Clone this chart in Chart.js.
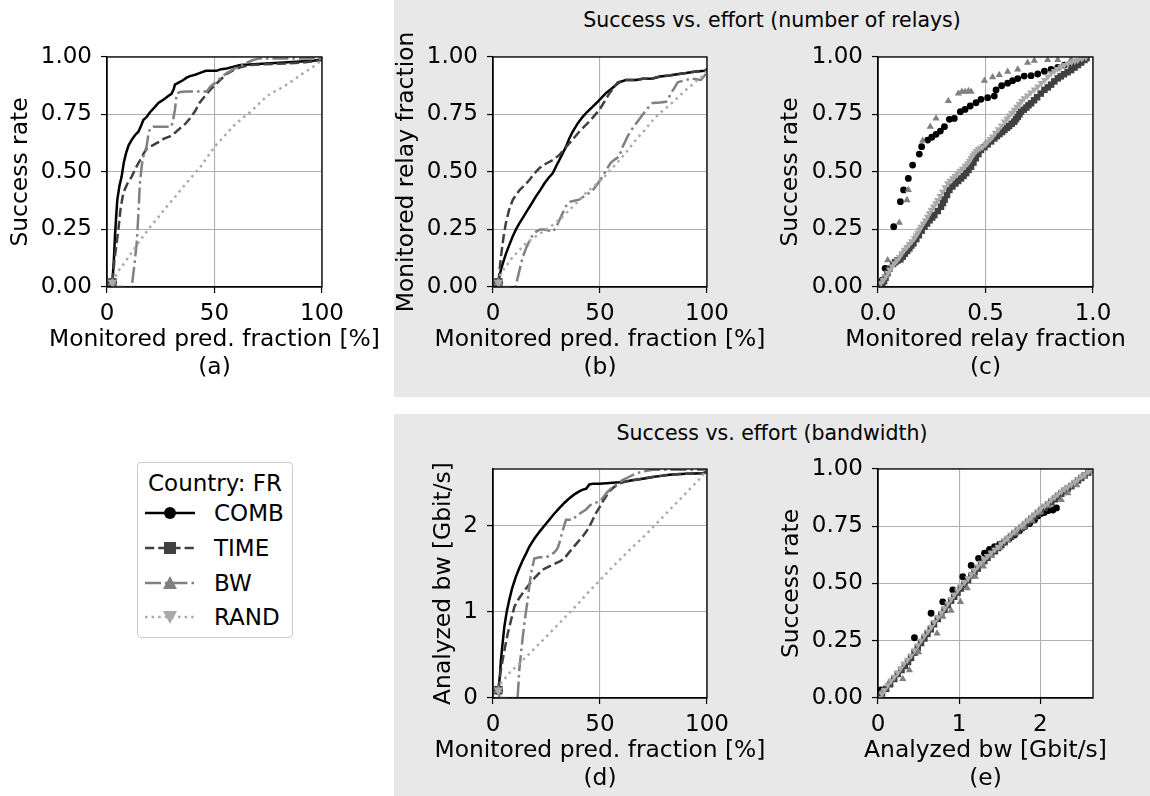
<!DOCTYPE html>
<html><head><meta charset="utf-8">
<script src="https://cdn.jsdelivr.net/npm/chart.js@4.4.0/dist/chart.umd.min.js"></script>
<style>
html,body{margin:0;padding:0;background:#fff;}
body{width:1150px;height:796px;position:relative;overflow:hidden;font-family:"DejaVu Sans";color:#000;}
.box{position:absolute;background:#e8e8e8;}
.ttl{position:absolute;left:0;right:0;text-align:center;font-size:20.5px;line-height:26px;white-space:nowrap;}
canvas{position:absolute;}
#legend{position:absolute;left:137px;top:462px;width:154px;height:174px;border:1px solid #cccccc;border-radius:4px;background:#fff;}
#legend .lt{position:absolute;left:0;right:0;text-align:center;font-size:23px;line-height:26px;white-space:nowrap;}
#legend .li{position:absolute;left:76px;font-size:23px;line-height:26px;white-space:nowrap;}
#legend svg{position:absolute;left:7px;}
</style></head><body>
<div class="box" style="left:394px;top:0;width:756px;height:397px;"><div class="ttl" id="t1" style="top:7px;"></div></div>
<div class="box" style="left:394px;top:414px;width:756px;height:382px;"><div class="ttl" id="t2" style="top:6px;"></div></div>
<canvas id="ca"></canvas><canvas id="cb"></canvas><canvas id="cc"></canvas><canvas id="cd"></canvas><canvas id="ce"></canvas>
<div id="legend"></div>
<script>
// ---------- data ----------
const SERIES = ['COMB', 'TIME', 'BW', 'RAND'];
const LEGEND_TITLE = 'Country: FR';
const PANEL_TITLES = ['Success vs. effort (number of relays)', 'Success vs. effort (bandwidth)'];
const TICKS_PCT = [0, 50, 100];
const TICKS_RATE = [0, 0.25, 0.5, 0.75, 1];
const TICKS_REL = [0, 0.5, 1];
const TICKS_BW = [0, 1, 2];

// (a) success rate vs monitored pred. fraction [%]
const A_COMB = [[2.5,0.02],[3.2,0.12],[3.7,0.22],[4.3,0.31],[4.8,0.38],[5.8,0.44],[6.8,0.48],[7.8,0.54],[8.8,0.58],[10,0.615],[11.5,0.64],[13,0.66],[14.6,0.675],[15.8,0.70],[16.9,0.726],[18.5,0.74],[20,0.76],[22,0.78],[23.9,0.80],[25.5,0.81],[27,0.82],[28.5,0.83],[30,0.84],[31,0.86],[31.6,0.88],[33.5,0.89],[35.5,0.90],[37,0.91],[38.6,0.917],[41,0.923],[43,0.93],[46,0.94],[51,0.94],[53,0.947],[55.7,0.95],[59,0.958],[62,0.965],[68,0.968],[74,0.972],[82,0.976],[90,0.98],[96,0.984],[100,0.99]];
const A_TIME = [[2.5,0.02],[3.5,0.12],[5.3,0.25],[6.3,0.34],[7.6,0.41],[9.5,0.45],[11.5,0.48],[13.5,0.52],[15.3,0.55],[17,0.58],[18.4,0.60],[21,0.615],[23.9,0.63],[26.5,0.645],[29.3,0.655],[31.5,0.67],[34,0.69],[36.5,0.71],[38.6,0.733],[41,0.765],[43,0.80],[45.5,0.83],[48,0.857],[50.5,0.88],[52.6,0.90],[55.5,0.925],[58.8,0.943],[62,0.955],[66.5,0.965],[72,0.968],[77,0.97],[84,0.972],[90,0.975],[95,0.98],[100,0.987]];
const A_BW = [[2.5,0.02],[3.5,0],[11.5,0],[12.8,0.10],[13.8,0.19],[14.5,0.30],[15.3,0.45],[16.2,0.53],[16.9,0.567],[18.4,0.61],[19.2,0.66],[20,0.69],[21.5,0.697],[25,0.697],[30,0.697],[30.8,0.73],[31.6,0.77],[32.4,0.84],[34,0.848],[37,0.85],[42,0.85],[46.4,0.85],[48,0.87],[50,0.886],[53,0.91],[55.7,0.93],[59,0.948],[62,0.96],[65,0.975],[68,0.987],[71,0.994],[80,0.994],[90,0.994],[100,0.994]];
const A_RAND = [[2.5,0.02],[5.3,0.07],[8.5,0.11],[12.2,0.16],[16,0.21],[20,0.26],[24,0.305],[27.8,0.35],[31.5,0.39],[35.5,0.436],[39.5,0.48],[43.3,0.52],[47,0.57],[51,0.62],[55,0.66],[58.8,0.70],[62.5,0.73],[66.5,0.76],[70.5,0.795],[74.3,0.83],[78,0.85],[82,0.87],[86,0.895],[89.8,0.92],[93,0.94],[96,0.958],[100,0.987]];

// (b) monitored relay fraction vs monitored pred. fraction [%]
const B_COMB = [[2.5,0.02],[3.3,0.06],[4.5,0.10],[6.1,0.146],[7.5,0.18],[9.2,0.22],[10.7,0.25],[12.3,0.277],[14.2,0.305],[16.2,0.335],[18,0.362],[20,0.393],[22,0.42],[24,0.45],[26,0.475],[27.9,0.494],[29.5,0.525],[31,0.552],[32.5,0.58],[34.1,0.61],[35.6,0.645],[37.2,0.675],[39.5,0.71],[41.9,0.74],[44.2,0.763],[46.6,0.784],[49,0.806],[51.2,0.828],[53,0.845],[55.1,0.86],[57,0.875],[59,0.89],[62,0.90],[66.8,0.90],[70,0.905],[74.6,0.907],[78,0.915],[82.4,0.92],[86,0.925],[90.2,0.93],[94,0.936],[98.8,0.94],[100,0.946]];
const B_TIME = [[2.5,0.02],[3.7,0.13],[4.8,0.21],[6,0.277],[7.5,0.335],[9.2,0.378],[10.7,0.40],[12.3,0.42],[14.5,0.44],[17,0.465],[19,0.49],[21.6,0.516],[24.5,0.535],[27.9,0.552],[31,0.574],[33.3,0.60],[35.7,0.625],[38,0.65],[40.3,0.675],[42.6,0.697],[45,0.72],[47.4,0.745],[49.7,0.77],[52,0.805],[54.4,0.842],[56.3,0.865],[58.3,0.89],[62,0.90],[66.8,0.90],[70,0.905],[74.6,0.907],[78,0.915],[82.4,0.92],[86,0.925],[90.2,0.93],[94,0.936],[98.8,0.94],[100,0.946]];
const B_BW = [[2.5,0.02],[3,0],[10.5,0],[12.3,0.07],[13.9,0.13],[15.5,0.17],[17,0.20],[18.5,0.225],[20,0.24],[22,0.25],[24,0.25],[26,0.245],[27.9,0.24],[29.5,0.26],[31,0.29],[32.5,0.32],[34,0.35],[35.7,0.37],[38,0.375],[40.3,0.38],[43.5,0.40],[46.6,0.42],[49,0.45],[51.2,0.48],[53,0.51],[55,0.54],[57,0.555],[59,0.567],[60.6,0.61],[62.9,0.655],[64.5,0.68],[66,0.70],[68,0.725],[70,0.75],[72,0.775],[74.6,0.80],[78,0.802],[80.8,0.805],[82,0.82],[83,0.84],[84.7,0.865],[86.3,0.89],[90,0.90],[93.3,0.906],[97.2,0.90],[99,0.92],[100,0.94]];
const B_RAND = [[2.5,0.02],[3.7,0.06],[6.5,0.095],[9.2,0.13],[12.3,0.16],[15.4,0.19],[17.7,0.205],[20,0.22],[24,0.245],[28,0.27],[32,0.30],[35.7,0.335],[39.6,0.37],[43.5,0.41],[47.3,0.44],[51.2,0.47],[55,0.51],[59,0.55],[63,0.595],[66.8,0.64],[70.7,0.68],[74.6,0.725],[78.5,0.76],[82.4,0.79],[86.2,0.822],[90,0.856],[93.2,0.88],[96.4,0.907],[98.5,0.92],[100,0.94]];

// (c) success rate vs monitored relay fraction
const C_COMB = [[0.02,0.03],[0.033,0.081],[0.073,0.262],[0.104,0.371],[0.119,0.422],[0.141,0.472],[0.161,0.530],[0.192,0.578],[0.203,0.61],[0.231,0.639],[0.25,0.651],[0.27,0.664],[0.29,0.678],[0.309,0.697],[0.332,0.729],[0.355,0.733],[0.383,0.762],[0.405,0.772],[0.429,0.787],[0.456,0.801],[0.479,0.816],[0.51,0.823],[0.541,0.83],[0.549,0.857],[0.575,0.875],[0.603,0.886],[0.626,0.897],[0.65,0.906],[0.68,0.917],[0.712,0.919],[0.743,0.926],[0.774,0.938],[0.805,0.946],[0.836,0.955],[0.867,0.965],[0.898,0.972],[0.944,0.983]];
const C_TIME = [[0.02,0.01],[0.028,0.025],[0.035,0.04],[0.044,0.06],[0.053,0.08],[0.07,0.10],[0.08,0.108],[0.09,0.115],[0.104,0.12],[0.115,0.132],[0.125,0.145],[0.136,0.157],[0.146,0.168],[0.155,0.18],[0.165,0.19],[0.178,0.208],[0.19,0.225],[0.203,0.245],[0.216,0.262],[0.228,0.276],[0.24,0.29],[0.252,0.302],[0.262,0.313],[0.278,0.33],[0.293,0.349],[0.302,0.365],[0.31,0.38],[0.321,0.4],[0.332,0.422],[0.346,0.437],[0.36,0.45],[0.373,0.461],[0.386,0.472],[0.398,0.483],[0.41,0.495],[0.421,0.509],[0.433,0.523],[0.444,0.541],[0.455,0.56],[0.467,0.578],[0.479,0.596],[0.495,0.608],[0.51,0.62],[0.526,0.633],[0.541,0.646],[0.553,0.656],[0.565,0.665],[0.577,0.674],[0.588,0.683],[0.6,0.692],[0.61,0.70],[0.622,0.71],[0.634,0.719],[0.642,0.73],[0.65,0.74],[0.658,0.751],[0.665,0.762],[0.678,0.771],[0.69,0.78],[0.7,0.79],[0.712,0.799],[0.726,0.812],[0.74,0.825],[0.757,0.841],[0.774,0.857],[0.79,0.868],[0.805,0.88],[0.82,0.894],[0.836,0.907],[0.85,0.916],[0.865,0.925],[0.882,0.934],[0.898,0.943],[0.914,0.954],[0.93,0.965],[0.945,0.976],[0.96,0.987],[0.97,0.995]];
const C_BW = [[0.02,0.03],[0.045,0.117],[0.099,0.28],[0.135,0.378],[0.141,0.422],[0.208,0.636],[0.243,0.697],[0.27,0.733],[0.327,0.809],[0.374,0.842],[0.39,0.849],[0.405,0.849],[0.42,0.852],[0.433,0.849],[0.495,0.897],[0.533,0.912],[0.564,0.922],[0.603,0.936],[0.65,0.946],[0.696,0.975],[0.727,0.984],[0.789,0.987],[0.836,0.987],[0.898,0.99],[0.944,0.994]];
const C_RAND = [[0.014,0.016],[0.025,0.03],[0.037,0.045],[0.046,0.06],[0.055,0.075],[0.066,0.09],[0.076,0.103],[0.088,0.116],[0.1,0.13],[0.111,0.146],[0.122,0.161],[0.134,0.173],[0.145,0.185],[0.157,0.198],[0.169,0.212],[0.177,0.224],[0.185,0.235],[0.193,0.248],[0.2,0.262],[0.21,0.276],[0.22,0.29],[0.23,0.305],[0.239,0.32],[0.248,0.335],[0.258,0.35],[0.268,0.364],[0.277,0.378],[0.288,0.396],[0.3,0.415],[0.312,0.433],[0.324,0.451],[0.335,0.462],[0.347,0.472],[0.358,0.483],[0.37,0.494],[0.382,0.505],[0.393,0.515],[0.405,0.527],[0.417,0.538],[0.425,0.549],[0.433,0.56],[0.44,0.571],[0.448,0.581],[0.457,0.592],[0.467,0.6],[0.477,0.605],[0.487,0.61],[0.5,0.621],[0.51,0.632],[0.522,0.643],[0.533,0.654],[0.546,0.67],[0.56,0.685],[0.574,0.702],[0.588,0.719],[0.6,0.732],[0.61,0.745],[0.622,0.757],[0.634,0.77],[0.645,0.783],[0.657,0.795],[0.668,0.808],[0.68,0.82],[0.695,0.832],[0.71,0.845],[0.727,0.858],[0.743,0.871],[0.759,0.886],[0.775,0.9],[0.79,0.915],[0.805,0.929],[0.82,0.939],[0.835,0.948],[0.851,0.957],[0.867,0.965],[0.884,0.971],[0.9,0.977],[0.915,0.982],[0.929,0.987],[0.948,0.993],[0.967,0.999]];

// (d) analyzed bw [Gbit/s] vs monitored pred. fraction [%]
const D_COMB = [[2.5,0.09],[3.2,0.25],[3.7,0.44],[4.5,0.64],[5.3,0.83],[6.4,1.0],[7.6,1.14],[9,1.28],[10.7,1.41],[12.3,1.51],[13.9,1.60],[15.5,1.68],[17,1.76],[19.3,1.85],[21.7,1.93],[24,2.0],[26.3,2.07],[28.6,2.14],[31,2.205],[33.3,2.265],[35.7,2.32],[38,2.365],[40.3,2.40],[42,2.42],[43.5,2.43],[45,2.48],[47,2.49],[49.7,2.49],[53,2.495],[56,2.50],[59,2.505],[62,2.515],[65,2.53],[68.4,2.54],[71.5,2.553],[74.6,2.566],[78.5,2.58],[82.4,2.593],[86,2.6],[90.2,2.605],[94,2.607],[98,2.61],[100,2.63]];
const D_TIME = [[2.5,0.09],[3.5,0.3],[4.5,0.44],[5.7,0.6],[6.9,0.75],[8.4,0.9],[10,1.06],[12,1.15],[13.9,1.22],[16,1.29],[18.5,1.37],[20.8,1.43],[23.2,1.49],[26.3,1.53],[29.4,1.566],[31.5,1.59],[33.3,1.62],[35.2,1.68],[37.2,1.74],[39.6,1.81],[41.9,1.876],[43.5,1.93],[45,1.99],[46.6,2.07],[48.1,2.147],[49.7,2.21],[51.2,2.28],[52.8,2.34],[54.4,2.40],[56.5,2.45],[59,2.49],[62,2.515],[66.8,2.535],[70,2.55],[74.6,2.566],[78.5,2.58],[82.4,2.593],[86,2.6],[90.2,2.605],[94,2.607],[98,2.61],[100,2.63]];
const D_BW = [[2.5,0.09],[3,0],[11.5,0],[12.3,0.33],[13.1,0.52],[13.9,0.71],[15,0.93],[16.2,1.14],[17,1.3],[17.8,1.45],[19.3,1.62],[21.7,1.635],[24.8,1.635],[27,1.66],[29,1.70],[30.2,1.74],[31,1.8],[31.8,1.876],[33,1.98],[34.1,2.07],[37.2,2.07],[38.8,2.11],[41,2.15],[43.5,2.19],[45,2.23],[46.6,2.26],[49.7,2.28],[51.5,2.33],[53,2.38],[55,2.43],[57.5,2.477],[60.5,2.53],[63.7,2.57],[67,2.61],[70,2.63],[74.6,2.65],[85,2.65],[100,2.65]];
const D_RAND = [[2.5,0.09],[3.7,0.17],[8,0.30],[12.3,0.40],[16,0.49],[20,0.59],[24,0.69],[27.9,0.79],[31.8,0.89],[35.7,0.99],[39.6,1.09],[43.5,1.20],[47.3,1.30],[51.2,1.40],[55,1.50],[59,1.60],[63,1.70],[66.8,1.79],[70.7,1.88],[74.6,1.98],[78.5,2.08],[82.4,2.18],[86.3,2.28],[90.2,2.38],[94,2.48],[97,2.56],[100,2.65]];

// (e) success rate vs analyzed bw [Gbit/s]
const E_COMB = [[0.037,0.035],[0.449,0.263],[0.654,0.37],[0.798,0.42],[0.922,0.472],[1.045,0.53],[1.148,0.579],[1.239,0.61],[1.313,0.632],[1.374,0.649],[1.436,0.661],[1.5,0.672],[1.56,0.683],[1.62,0.697],[1.683,0.712],[1.745,0.73],[1.807,0.748],[1.87,0.762],[1.93,0.777],[1.97,0.795],[2.01,0.806],[2.05,0.81],[2.095,0.818],[2.156,0.821],[2.2,0.83]];
const E_TIME = [[0.05,0.02],[0.1,0.04],[0.15,0.06],[0.2,0.083],[0.243,0.105],[0.29,0.122],[0.33,0.14],[0.37,0.157],[0.407,0.175],[0.45,0.198],[0.49,0.22],[0.53,0.24],[0.572,0.26],[0.61,0.28],[0.65,0.3],[0.69,0.322],[0.737,0.345],[0.78,0.365],[0.82,0.385],[0.86,0.405],[0.901,0.425],[0.94,0.442],[0.98,0.46],[1.02,0.478],[1.066,0.495],[1.11,0.515],[1.15,0.535],[1.19,0.55],[1.23,0.565],[1.27,0.582],[1.31,0.598],[1.35,0.612],[1.395,0.627],[1.44,0.641],[1.48,0.655],[1.52,0.668],[1.56,0.68],[1.6,0.693],[1.64,0.705],[1.68,0.718],[1.724,0.73],[1.77,0.742],[1.81,0.755],[1.85,0.768],[1.889,0.78],[1.93,0.792],[1.97,0.805],[2.01,0.818],[2.053,0.83],[2.095,0.842],[2.136,0.855],[2.18,0.868],[2.218,0.88],[2.26,0.892],[2.3,0.905],[2.34,0.915],[2.383,0.925],[2.425,0.938],[2.465,0.95],[2.505,0.961],[2.547,0.972],[2.59,0.984],[2.63,0.996]];
const E_BW = [[0.05,0.03],[0.14,0.07],[0.305,0.083],[0.387,0.122],[0.5,0.2],[0.728,0.282],[0.8,0.355],[0.901,0.381],[1.016,0.42],[1.1,0.48],[1.2,0.53],[1.3,0.575],[1.4,0.62],[1.5,0.655],[1.6,0.69],[1.7,0.72],[1.8,0.745],[1.9,0.775],[2.0,0.81],[2.1,0.84],[2.259,0.865],[2.34,0.894],[2.45,0.93],[2.55,0.965],[2.63,0.99]];
const E_RAND = [[0.02,0.0],[0.05,0.018],[0.08,0.035],[0.12,0.055],[0.16,0.075],[0.2,0.092],[0.243,0.11],[0.28,0.13],[0.32,0.15],[0.365,0.167],[0.407,0.185],[0.45,0.208],[0.49,0.23],[0.53,0.251],[0.572,0.272],[0.615,0.291],[0.655,0.31],[0.695,0.331],[0.737,0.352],[0.78,0.372],[0.82,0.392],[0.86,0.412],[0.901,0.432],[0.94,0.451],[0.98,0.47],[1.02,0.488],[1.066,0.505],[1.11,0.522],[1.15,0.54],[1.19,0.558],[1.23,0.575],[1.27,0.59],[1.31,0.605],[1.35,0.62],[1.395,0.635],[1.44,0.648],[1.48,0.66],[1.52,0.674],[1.56,0.688],[1.6,0.7],[1.64,0.713],[1.68,0.727],[1.724,0.74],[1.77,0.752],[1.81,0.765],[1.85,0.778],[1.889,0.79],[1.93,0.802],[1.97,0.815],[2.01,0.828],[2.053,0.84],[2.095,0.852],[2.136,0.865],[2.18,0.878],[2.218,0.89],[2.26,0.901],[2.3,0.912],[2.34,0.922],[2.383,0.932],[2.425,0.944],[2.465,0.955],[2.505,0.966],[2.547,0.977],[2.59,0.988],[2.63,0.998]];

// ---------- styling ----------
const FONT = 'DejaVu Sans';
const FS = 23;
const FT = 23.4;
const LW = 2.5;
const STY = {
  COMB: {color: '#000000', dash: [], style: 'circle', rot: 0, r0: 4.5, rs: 3.4},
  TIME: {color: '#404040', dash: [9.2, 4], style: 'rect', rot: 0, r0: 6, rs: 4.6},
  BW:   {color: '#808080', dash: [16, 4, 2.5, 4], style: 'triangle', rot: 0, r0: 5.5, rs: 4.2},
  RAND: {color: '#aaaaaa', dash: [2.5, 4.1], style: 'triangle', rot: 180, r0: 5.5, rs: 4.2}
};
Chart.defaults.font.family = FONT;
Chart.defaults.color = '#000';
document.getElementById('t1').textContent = PANEL_TITLES[0];
document.getElementById('t2').textContent = PANEL_TITLES[1];

const framePlugin = {
  id: 'frame',
  beforeDraw(chart) {
    const {ctx, chartArea: a} = chart;
    ctx.save(); ctx.fillStyle = '#ffffff';
    ctx.fillRect(a.left, a.top, a.right - a.left, a.bottom - a.top); ctx.restore();
  },
  afterDatasetsDraw(chart) {
    const {ctx, chartArea: a} = chart;
    ctx.save(); ctx.strokeStyle = '#000'; ctx.lineWidth = 1.3;
    ctx.strokeRect(Math.round(a.left), Math.round(a.top), Math.round(a.right - a.left), Math.round(a.bottom - a.top));
    ctx.restore();
  },
  afterDraw(chart, args, opts) {
    if (!opts || !opts.lines) return;
    const {ctx, chartArea: a} = chart;
    ctx.save(); ctx.font = FT + 'px "' + FONT + '"'; ctx.fillStyle = '#000';
    ctx.textAlign = 'center'; ctx.textBaseline = 'middle';
    opts.lines.forEach((t, i) => ctx.fillText(t, (a.left + a.right) / 2, a.bottom + opts.dy[i]));
    ctx.restore();
  }
};

function toXY(arr) { return arr.map(p => ({x: p[0], y: p[1]})); }

function lineSets(list) {
  return list.map((arr, i) => {
    const s = STY[SERIES[i]];
    return {
      label: SERIES[i], data: toXY(arr), showLine: true, order: 4 - i,
      borderColor: s.color, borderWidth: LW, borderDash: s.dash, borderCapStyle: 'butt',
      pointStyle: s.style, pointRotation: s.rot, pointBackgroundColor: s.color, pointBorderWidth: 0,
      pointRadius: c => c.dataIndex === 0 ? s.r0 : 0, pointHoverRadius: 0, tension: 0
    };
  });
}
function dotSets(list) {
  return list.map((arr, i) => {
    const s = STY[SERIES[i]];
    return {
      label: SERIES[i], data: toXY(arr), showLine: false, order: 4 - i,
      pointStyle: s.style, pointRotation: s.rot, pointBackgroundColor: s.color,
      pointBorderWidth: 0, pointRadius: s.rs, pointHoverRadius: s.rs
    };
  });
}

function axis(opts) {
  return {
    type: 'linear', min: opts.min, max: opts.max,
    afterBuildTicks: sc => { sc.ticks = opts.ticks.map(v => ({value: v})); },
    afterFit: opts.fit,
    ticks: {font: {size: FS, family: FONT}, color: '#000', padding: opts.pad, callback: opts.fmt, autoSkip: false, maxRotation: 0},
    grid: {color: '#b0b0b0', lineWidth: 1.1, tickColor: '#000', tickLength: 6, tickWidth: 1.2, drawTicks: true},
    border: {display: true, color: '#000', width: 1.3},
    title: opts.title ? {display: true, text: opts.title, font: {size: FT, family: FONT, lineHeight: 1.2}, color: '#000', padding: opts.tpad} : {display: false}
  };
}

function makeChart(id, rect, plot, cfg) {
  const cv = document.getElementById(id);
  cv.width = rect.r - rect.l; cv.height = rect.b - rect.t;
  cv.style.left = rect.l + 'px'; cv.style.top = rect.t + 'px';
  cv.style.width = cv.width + 'px'; cv.style.height = cv.height + 'px';
  const lh = FT * 1.2;
  new Chart(cv, {
    type: 'scatter',
    data: {datasets: cfg.datasets},
    options: {
      responsive: false, animation: false, devicePixelRatio: 1,
      layout: {padding: {left: 0, top: plot.t - rect.t, right: rect.r - plot.r, bottom: 0}},
      plugins: {legend: {display: false}, tooltip: {enabled: false}, frame: {lines: cfg.x.title, dy: [53, 81]}},
      scales: {
        x: axis({min: cfg.x.min, max: cfg.x.max, ticks: cfg.x.ticks, fmt: cfg.x.fmt, pad: 7,
          title: null, fit: s => { s.height = rect.b - plot.b; }}),
        y: axis({min: cfg.y.min, max: cfg.y.max, ticks: cfg.y.ticks, fmt: cfg.y.fmt, pad: 9,
          title: cfg.y.title, tpad: {top: cfg.titleX - rect.l - lh / 2, bottom: 0},
          fit: s => { s.width = plot.l - rect.l; }})
      }
    },
    plugins: [framePlugin]
  });
}

const f2 = v => Number(v).toFixed(2);
const f1 = v => Number(v).toFixed(1);
const f0 = v => String(Math.round(v));

makeChart('ca', {l: 0, t: 0, r: 390, b: 395}, {l: 107, t: 57, r: 322, b: 287}, {
  datasets: lineSets([A_COMB, A_TIME, A_BW, A_RAND]), titleX: 21,
  x: {min: 0, max: 100, ticks: TICKS_PCT, fmt: f0, title: ['Monitored pred. fraction [%]', '(a)']},
  y: {min: 0, max: 1, ticks: TICKS_RATE, fmt: f2, title: 'Success rate'}
});
makeChart('cb', {l: 390, t: 0, r: 770, b: 395}, {l: 493, t: 57, r: 707, b: 287}, {
  datasets: lineSets([B_COMB, B_TIME, B_BW, B_RAND]), titleX: 407,
  x: {min: 0, max: 100, ticks: TICKS_PCT, fmt: f0, title: ['Monitored pred. fraction [%]', '(b)']},
  y: {min: 0, max: 1, ticks: TICKS_RATE, fmt: f2, title: 'Monitored relay fraction'}
});
makeChart('cc', {l: 770, t: 0, r: 1150, b: 395}, {l: 878, t: 57, r: 1093, b: 287}, {
  datasets: dotSets([C_COMB, C_TIME, C_BW, C_RAND]), titleX: 791,
  x: {min: 0, max: 1, ticks: TICKS_REL, fmt: f1, title: ['Monitored relay fraction', '(c)']},
  y: {min: 0, max: 1, ticks: TICKS_RATE, fmt: f2, title: 'Success rate'}
});
makeChart('cd', {l: 420, t: 420, r: 770, b: 796}, {l: 493, t: 469, r: 707, b: 698}, {
  datasets: lineSets([D_COMB, D_TIME, D_BW, D_RAND]), titleX: 444,
  x: {min: 0, max: 100, ticks: TICKS_PCT, fmt: f0, title: ['Monitored pred. fraction [%]', '(d)']},
  y: {min: 0, max: 2.66, ticks: TICKS_BW, fmt: f0, title: 'Analyzed bw [Gbit/s]'}
});
makeChart('ce', {l: 770, t: 420, r: 1150, b: 796}, {l: 878, t: 469, r: 1093, b: 698}, {
  datasets: dotSets([E_COMB, E_TIME, E_BW, E_RAND]), titleX: 792,
  x: {min: 0, max: 2.65, ticks: TICKS_BW, fmt: f0, title: ['Analyzed bw [Gbit/s]', '(e)']},
  y: {min: 0, max: 1, ticks: TICKS_RATE, fmt: f2, title: 'Success rate'}
});

// ---------- legend ----------
(function () {
  const lg = document.getElementById('legend');
  const t = document.createElement('div'); t.className = 'lt'; t.style.top = '7px'; t.textContent = LEGEND_TITLE; lg.appendChild(t);
  const ys = [50, 85, 120, 154];
  const NS = 'http://www.w3.org/2000/svg';
  SERIES.forEach((name, i) => {
    const s = STY[name];
    const svg = document.createElementNS(NS, 'svg');
    svg.setAttribute('width', '50'); svg.setAttribute('height', '20');
    svg.style.top = (ys[i] - 10) + 'px';
    const ln = document.createElementNS(NS, 'line');
    ln.setAttribute('x1', '0'); ln.setAttribute('x2', '50'); ln.setAttribute('y1', '10'); ln.setAttribute('y2', '10');
    ln.setAttribute('stroke', s.color); ln.setAttribute('stroke-width', '2.6');
    if (s.dash.length) ln.setAttribute('stroke-dasharray', s.dash.join(' '));
    svg.appendChild(ln);
    let m;
    if (s.style === 'circle') { m = document.createElementNS(NS, 'circle'); m.setAttribute('cx', '25'); m.setAttribute('cy', '10'); m.setAttribute('r', '6'); }
    else if (s.style === 'rect') { m = document.createElementNS(NS, 'rect'); m.setAttribute('x', '19'); m.setAttribute('y', '4'); m.setAttribute('width', '12'); m.setAttribute('height', '12'); }
    else if (s.rot === 0) { m = document.createElementNS(NS, 'polygon'); m.setAttribute('points', '25,3 32,16 18,16'); }
    else { m = document.createElementNS(NS, 'polygon'); m.setAttribute('points', '18,4 32,4 25,17'); }
    m.setAttribute('fill', s.color); svg.appendChild(m);
    lg.appendChild(svg);
    const tx = document.createElement('div'); tx.className = 'li'; tx.style.top = (ys[i] - 13) + 'px'; tx.textContent = name; lg.appendChild(tx);
  });
})();
</script>
</body></html>
